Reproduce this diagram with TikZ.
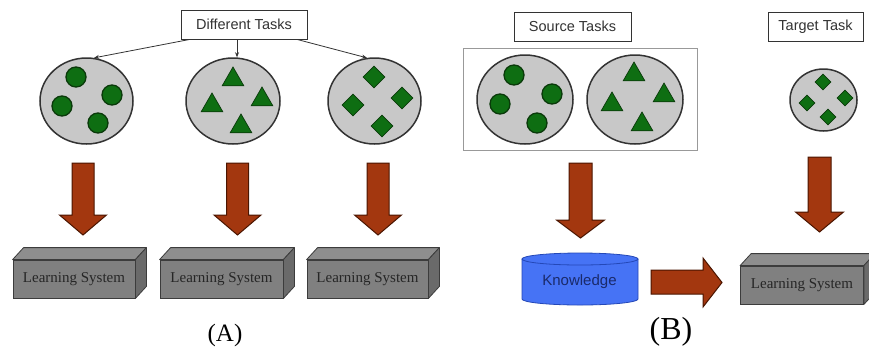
\documentclass[tikz,border=0pt]{standalone}
\usepackage{fontspec}
\setmainfont{Liberation Serif}
\setsansfont{Liberation Sans}
\usetikzlibrary{shapes.geometric,calc,arrows.meta}
\definecolor{poolgray}{HTML}{C8C8C8}
\definecolor{leaf}{HTML}{0E6E12}
\definecolor{leafdark}{HTML}{0A3A0A}
\definecolor{brick}{HTML}{A3370F}
\definecolor{brickdark}{HTML}{4A1500}
\definecolor{lsfront}{HTML}{808080}
\definecolor{lstop}{HTML}{8E8E8E}
\definecolor{lsside}{HTML}{6A6A6A}
\definecolor{lsline}{HTML}{3C3C3C}
\definecolor{kblue}{HTML}{4673F5}
\definecolor{kbluedark}{HTML}{2448B8}
\definecolor{kntext}{HTML}{1A2A6A}
\definecolor{ink}{HTML}{333333}
\newcommand\blkdown[6]{%
  \draw[blockarrow] (#1-#5,#2) -- (#1+#5,#2) -- (#1+#5,#3) -- (#1+#6,#3)
    -- (#1,#4) -- (#1-#6,#3) -- (#1-#5,#3) -- cycle;}
\newcommand\lsbox[4]{% name, x, y, width
  \node[lsfront, minimum width=#4pt] (#1) at (#2,#3) {Learning System};
  \draw[lsedge, fill=lstop] (#1.north west) -- ++(11,-12) -- ($(#1.north east)+(11,-12)$) -- (#1.north east) -- cycle;
  \draw[lsedge, fill=lsside] (#1.north east) -- ++(11,-12) -- ($(#1.south east)+(11,-12)$) -- (#1.south east) -- cycle;}
\begin{document}
\begin{tikzpicture}[x=1pt,y=-1pt,
  taskbox/.style={draw=ink, line width=1pt, fill=white, minimum height=29pt,
    font=\sffamily\fontsize{14.5}{17}\selectfont, text=ink, inner sep=0pt},
  pool/.style={ellipse, draw=black!80, line width=1.5pt, fill=poolgray, inner sep=0pt},
  dot/.style={circle, draw=leafdark, line width=1.3pt, fill=leaf, minimum size=20pt, inner sep=0pt},
  tri/.style={regular polygon, regular polygon sides=3, draw=leafdark, line width=0.7pt, fill=leaf,
    minimum size=25pt, inner sep=0pt},
  diam/.style={diamond, draw=leafdark, line width=0.7pt, fill=leaf, minimum width=#1, minimum height=#1, inner sep=0pt},
  diam/.default=22pt,
  thin/.style={draw=ink, line width=0.8pt, -{Stealth[length=5pt,width=4pt]}},
  blockarrow/.style={draw=brickdark, line width=1pt, fill=brick, line join=miter},
  lsfront/.style={draw=lsline, line width=0.8pt, fill=lsfront, minimum height=38pt, inner sep=0pt,
    font=\fontsize{15}{18}\selectfont, text=black!85},
  lsedge/.style={draw=lsline, line width=0.8pt, line join=round},
  caption/.style={inner sep=0pt}]
\useasboundingbox (0,0) rectangle (869,349);
\fill[white] (0,0) rectangle (869,349);

% ---------- (A) ----------
\node[taskbox, minimum width=126pt] (dt) at (244,24.5) {Different Tasks};
\node[pool, minimum width=93pt, minimum height=86pt] (c1) at (86.5,101) {};
\node[pool, minimum width=94pt, minimum height=86pt] (c2) at (233,101) {};
\node[pool, minimum width=93pt, minimum height=86pt] (c3) at (374.5,101) {};
\coordinate (dtl) at ($(dt.south west)!0.07!(dt.south east)$);
\coordinate (dtm) at ($(dt.south west)!0.445!(dt.south east)$);
\coordinate (dtr) at ($(dt.south west)!0.92!(dt.south east)$);
\coordinate (c2top) at (dtm |- c2.north);
\draw[thin] (dtl) -- (c1.80);
\draw[thin] (dtm) -- (c2top);
\draw[thin] (dtr) -- (c3.100);

\node[dot] (a1) at (76,77) {};
\node[dot] (a2) at (112,95) {};
\node[dot] (a3) at (62,106) {};
\node[dot] (a4) at (98,123) {};

\node[tri] (b1) at (233,79.5) {};
\node[tri] (b2) at (262,99.5) {};
\node[tri] (b3) at (212,105.5) {};
\node[tri] (b4) at (241,126.5) {};

\node[diam] (d1) at (374,77) {};
\node[diam] (d2) at (402,98) {};
\node[diam] (d3) at (353,105) {};
\node[diam] (d4) at (382,126) {};

\blkdown{83}{163}{215}{235}{11}{23.5}
\blkdown{237.5}{163}{215}{235}{11}{23.5}
\blkdown{378}{163}{215}{235}{11}{23.5}

\lsbox{ls1}{74}{279}{122}
\lsbox{ls2}{221.5}{279}{123}
\lsbox{ls3}{367.5}{279}{121}

\node[caption, font=\fontsize{25}{28}\selectfont] (capA) at (225,335) {(A)};

% ---------- (B) ----------
\node[taskbox, minimum width=117pt] (st) at (572.5,26.5) {Source Tasks};
\node[draw=black!40, line width=1pt, minimum width=234pt, minimum height=102pt, inner sep=0pt] (grp) at (580,99) {};
\node[pool, minimum width=96pt, minimum height=89pt] (s1) at (525,99.5) {};
\node[pool, minimum width=96pt, minimum height=89pt] (s2) at (635,99.5) {};

\node[dot] (e1) at (514,75) {};
\node[dot] (e2) at (552,94) {};
\node[dot] (e3) at (500,104) {};
\node[dot] (e4) at (537,123) {};

\node[tri] (f1) at (634,74.5) {};
\node[tri] (f2) at (664,95.5) {};
\node[tri] (f3) at (612,104.5) {};
\node[tri] (f4) at (642,124.5) {};

\node[taskbox, minimum width=95pt] (tt) at (815.5,26.5) {Target Task};
\node[pool, minimum width=67pt, minimum height=62pt] (tc) at (823.5,100) {};
\node[diam=16pt] (g1) at (823,82) {};
\node[diam=16pt] (g2) at (845,98) {};
\node[diam=16pt] (g3) at (807,103) {};
\node[diam=16pt] (g4) at (828,117) {};

\blkdown{580.5}{163}{220}{238}{11.5}{24}
\blkdown{819.5}{157}{212}{232}{11.5}{24}

% knowledge cylinder
\fill[kblue] (522,259) -- (522,299) arc[start angle=180, end angle=360, x radius=58pt, y radius=6pt]
  -- (638,259) -- cycle;
\draw[kbluedark, line width=0.8pt] (522,259) -- (522,299) arc[start angle=180, end angle=360, x radius=58pt, y radius=6pt]
  -- (638,259);
\draw[kbluedark, line width=0.8pt, fill=kblue] (580,259) ellipse [x radius=58pt, y radius=6pt];
\node[font=\sffamily\fontsize{15}{18}\selectfont, text=kntext, inner sep=0pt] (kn) at (579.5,282) {Knowledge};

\draw[blockarrow] (651,270) -- (703,270) -- (703,258) -- (722,282.5) -- (703,307) -- (703,294) -- (651,294) -- cycle;

\lsbox{ls4}{802}{285}{123}

\node[caption, font=\fontsize{32}{36}\selectfont] (capB) at (671,332) {(B)};
\end{tikzpicture}
\end{document}
